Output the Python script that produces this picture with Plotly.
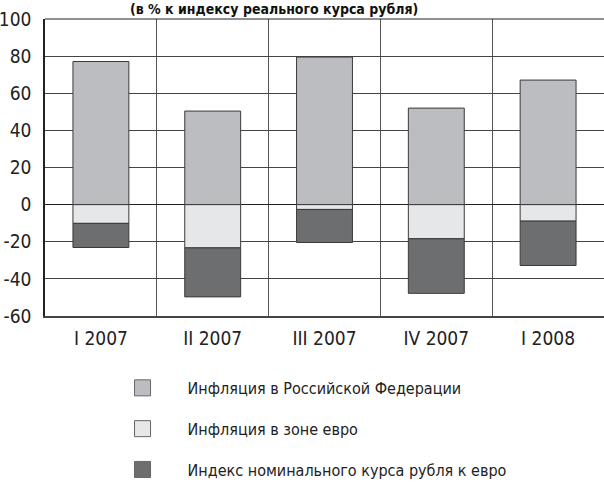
import plotly.graph_objects as go

categories = ["I 2007", "II 2007", "III 2007", "IV 2007", "I 2008"]
rus_inflation = [77.1, 50.4, 79.5, 52.0, 67.1]
euro_inflation = [-10.1, -23.3, -2.6, -18.4, -8.9]
ruble_index = [-13.0, -26.4, -17.8, -29.4, -23.9]
y_ticks = [-60, -40, -20, 0, 20, 40, 60, 80, 100]
y_tick_labels = ["-60", "-40", "-20", "0", "20", "40", "60", "80", "100"]
names = ["Инфляция в Российской Федерации", "Инфляция в зоне евро",
         "Индекс номинального курса рубля к евро"]
colors = ["#bcbdc0", "#e6e7e8", "#6d6e70"]
title_text = "(в % к индексу реального курса рубля)"

FONT = "DejaVu Sans Condensed, Liberation Sans Narrow, sans-serif"

fig = go.Figure()
for vals, name, col in zip([rus_inflation, euro_inflation, ruble_index], names, colors):
    fig.add_trace(go.Bar(x=categories, y=vals, name=name, width=0.5,
                         marker=dict(color=col, line=dict(color="#3a3a3a", width=1)),
                         showlegend=False))
for i, (name, col) in enumerate(zip(names, colors)):
    fig.add_trace(go.Scatter(x=[None], y=[None], mode="markers", name=name,
                             legendgroup="g%d" % i,
                             marker=dict(symbol="square", size=16, color=col,
                                         line=dict(color="#666", width=1))))

fig.update_layout(
    width=604, height=482,
    margin=dict(l=45, r=0, t=19, b=166, autoexpand=False),
    barmode="relative",
    plot_bgcolor="white", paper_bgcolor="white",
    font=dict(family=FONT, size=19, color="#222"),
    xaxis=dict(type="category", tickson="boundaries", showgrid=True,
               gridcolor="#555", gridwidth=1, ticks="", range=[-0.5, 4.5],
               showline=True, linecolor="#444", linewidth=2, mirror=False,
               tickfont=dict(size=19), ticklabelstandoff=4, automargin=False),
    yaxis=dict(range=[-60, 100], tickvals=y_ticks, ticktext=y_tick_labels,
               showgrid=True, gridcolor="#444",
               gridwidth=1, zeroline=True, zerolinecolor="#222", zerolinewidth=1,
               showline=True, linecolor="#222", linewidth=1.5, ticks="",
               tickfont=dict(size=19), ticklabelstandoff=8, automargin=False),
    legend=dict(x=0.094, y=-0.185, xanchor="left", yanchor="top",
                itemwidth=80, tracegroupgap=17, traceorder="grouped",
                font=dict(size=16), bgcolor="rgba(0,0,0,0)", itemclick=False),
    annotations=[dict(text="<b>" + title_text + "</b>", xref="paper", yref="paper",
                      x=0.41, y=1, xanchor="center", yanchor="bottom",
                      showarrow=False, font=dict(size=14, color="#111"))],
    shapes=[dict(type="line", xref="paper", yref="paper", x0=0, x1=1, y0=1, y1=1,
                 line=dict(color="#222", width=1))],
)

fig.write_html("out.html", config={"displayModeBar": False},
               post_script="document.body.style.margin='0';")
